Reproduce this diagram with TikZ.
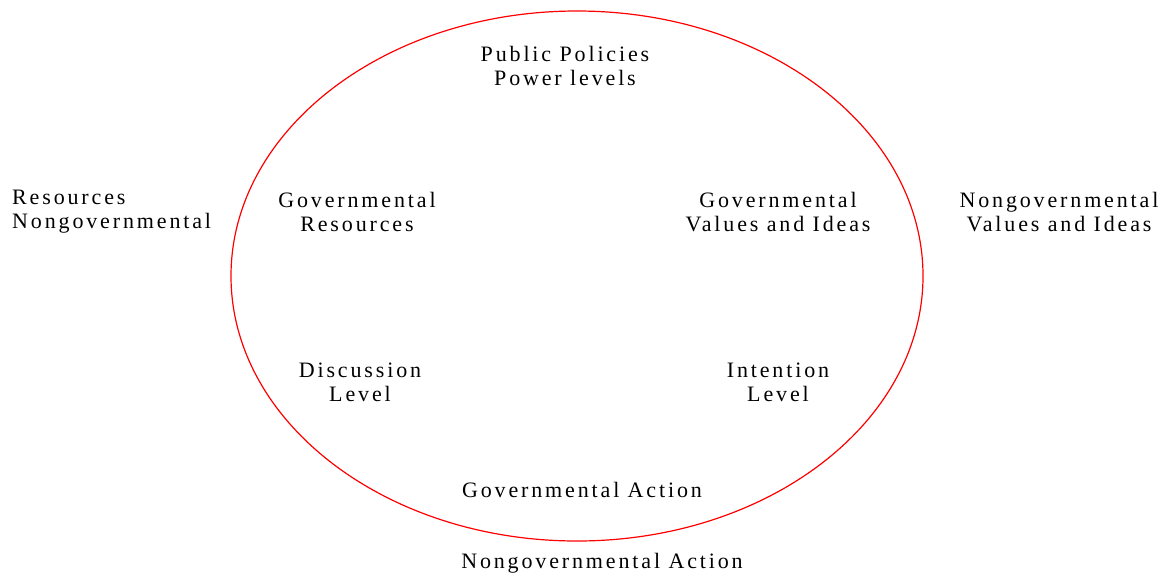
\documentclass[tikz,border=0pt]{standalone}
\usepackage{fontspec}
\setmainfont{Liberation Serif}[LetterSpace=13]
\usepackage{tikz}
\usetikzlibrary{positioning}

\begin{document}
\begin{tikzpicture}[x=1pt,y=-1pt,label/.style={align=center,inner sep=0pt,font=\fontsize{22}{24}\selectfont}]

	\useasboundingbox (0,0) rectangle (1167,574);

	% The circle
	\draw[red,line width=1.2pt] (577,276) ellipse [x radius=346pt, y radius=265pt];

	% Inside
	\node [label] at (565,66) (policies) {Public Policies\\Power levels};
	\node [label] at (357,212) (govres) {Governmental\\Resources};
	\node [label] at (778,212) (govval) {Governmental\\Values and Ideas};
	\node [label] at (360,382) (discuss) {Discussion\\Level};
	\node [label] at (778,382) (intent) {Intention\\Level};
	\node [label] at (582,490) (govact) {Governmental Action};

	% Outside
	\node [label,align=left,anchor=west] at (12,212) (ngres) {Resources\\Nongovernmental};
	\node [label] at (1059,212) (ngval) {Nongovernmental\\Values and Ideas};
	\node [label] at (602,563) (ngact) {Nongovernmental Action};

\end{tikzpicture}
\end{document}
